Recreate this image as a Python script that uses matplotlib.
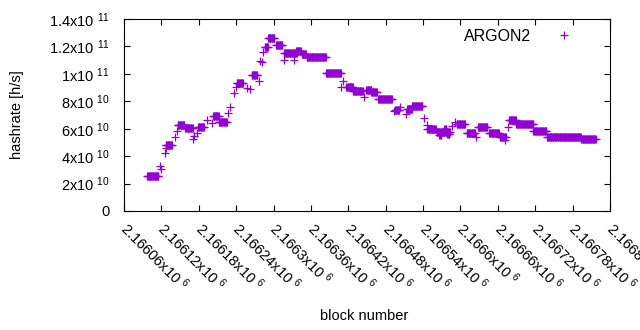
import matplotlib
matplotlib.use("Agg")
import matplotlib.pyplot as plt
import matplotlib.transforms as mtrans
import numpy as np

plt.rcParams['font.family'] = ['Liberation Sans', 'DejaVu Sans']
plt.rcParams['mathtext.fontset'] = 'custom'
plt.rcParams['mathtext.rm'] = 'Liberation Sans'
plt.rcParams['mathtext.it'] = 'Liberation Sans:italic'

# runs of constant hashrate: first block, last block, value in GH/s
run_start = [2166097, 2166117, 2166120, 2166125, 2166127, 2166127, 2166142, 2166145,
             2166146, 2166158, 2166170, 2166173, 2166177, 2166179, 2166194, 2166201,
             2166203, 2166212, 2166227, 2166230, 2166236, 2166239, 2166241, 2166257,
             2166262, 2166265, 2166277, 2166279, 2166281, 2166283, 2166286, 2166291,
             2166304, 2166316, 2166317, 2166333, 2166336, 2166345, 2166353, 2166384,
             2166408, 2166412, 2166417, 2166427, 2166445, 2166449, 2166457, 2166468,
             2166493, 2166495, 2166503, 2166512, 2166514, 2166522, 2166541, 2166546,
             2166547, 2166562, 2166566, 2166574, 2166579, 2166586, 2166591, 2166594,
             2166610, 2166625, 2166628, 2166646, 2166663, 2166672, 2166676, 2166678,
             2166689, 2166717, 2166739, 2166794]
run_end = [2166115, 2166117, 2166120, 2166125, 2166127, 2166137, 2166142, 2166145,
           2166157, 2166170, 2166170, 2166173, 2166177, 2166188, 2166194, 2166201,
           2166212, 2166225, 2166227, 2166230, 2166236, 2166239, 2166251, 2166257,
           2166262, 2166274, 2166277, 2166279, 2166281, 2166283, 2166291, 2166301,
           2166314, 2166316, 2166337, 2166333, 2166344, 2166352, 2166384, 2166408,
           2166408, 2166412, 2166427, 2166443, 2166445, 2166457, 2166466, 2166490,
           2166493, 2166502, 2166503, 2166512, 2166522, 2166539, 2166541, 2166546,
           2166560, 2166583, 2166569, 2166577, 2166582, 2166586, 2166591, 2166607,
           2166623, 2166625, 2166643, 2166662, 2166673, 2166672, 2166676, 2166689,
           2166717, 2166738, 2166793, 2166817]
run_value = [25.5, 32.8, 30.6, 42.1, 46.2, 48.1, 54.2, 58.5,
             62.7, 60.3, 52.3, 54.7, 57.1, 61.2, 66.4, 63.9,
             69.3, 64.7, 71.7, 75.6, 85.8, 90.2, 93.1, 89.5,
             88.7, 99.2, 94.8, 109.6, 108.9, 115.7, 119.4, 126.1,
             121.0, 110.1, 115.0, 110.1, 116.7, 114.3, 112.1, 100.4,
             90.2, 94.8, 90.6, 87.5, 82.9, 88.2, 86.5, 81.4,
             72.9, 73.6, 76.0, 70.5, 74.1, 76.3, 67.6, 62.7,
             59.6, 57.4, 55.6, 59.9, 56.0, 62.0, 65.1, 63.4,
             57.1, 54.2, 61.0, 56.6, 54.2, 51.8, 61.5, 66.4,
             63.4, 58.6, 53.7, 52.7]

blocks = []
hashrate = []
for s, e, v in zip(run_start, run_end, run_value):
    b = np.arange(s, e + 1)
    blocks.append(b)
    hashrate.append(np.full(len(b), v * 1e9))
blocks = np.concatenate(blocks)
hashrate = np.concatenate(hashrate)

xticks = np.arange(2166060, 2166841, 60)
xtick_labels = ['%gx10 $^{6}$' % (t / 1e6) for t in xticks]
yticks = [0, 2e10, 4e10, 6e10, 8e10, 1e11, 1.2e11, 1.4e11]
ytick_labels = ['0', '2x10 $^{10}$', '4x10 $^{10}$', '6x10 $^{10}$', '8x10 $^{10}$',
                '1x10 $^{11}$', '1.2x10 $^{11}$', '1.4x10 $^{11}$']

fig = plt.figure(figsize=(6.4, 3.3), dpi=100)
ax = fig.add_axes([124 / 640, 1 - 211 / 330, 486 / 640, 192 / 330])

ax.plot(blocks, hashrate, '+', color='#9400D3', ms=6, mew=0.9, label='ARGON2')

ax.set_xlim(2166060, 2166840)
ax.set_ylim(0, 1.4e11)
ax.set_xticks(xticks)
ax.set_xticklabels(xtick_labels, rotation=-45, ha='left', va='top',
                   rotation_mode='anchor')
ax.set_yticks(yticks)
ax.set_yticklabels(ytick_labels)
ax.tick_params(direction='in', length=4, width=0.8, top=True, right=True,
               labelsize=10.5, pad=6)
ax.tick_params(axis='y', pad=10)
shift = mtrans.ScaledTranslation(6 / 100, 0, fig.dpi_scale_trans)
for lbl in ax.get_xticklabels():
    lbl.set_transform(lbl.get_transform() + shift)
for sp in ax.spines.values():
    sp.set_linewidth(0.8)

fig.text(364 / 640, 1 - 316 / 330, 'block number', ha='center', va='center', fontsize=10.5)
fig.text(17 / 640, 1 - 115 / 330, 'hashrate [h/s]', ha='center', va='center',
         rotation=90, fontsize=10.5)

ax.legend(loc='upper right', markerfirst=False, frameon=False, fontsize=11.5,
          handlelength=2.5, handletextpad=0.85, borderaxespad=0.2,
          bbox_to_anchor=(0.967, 1.0))

fig.savefig('out.png', dpi=100)
